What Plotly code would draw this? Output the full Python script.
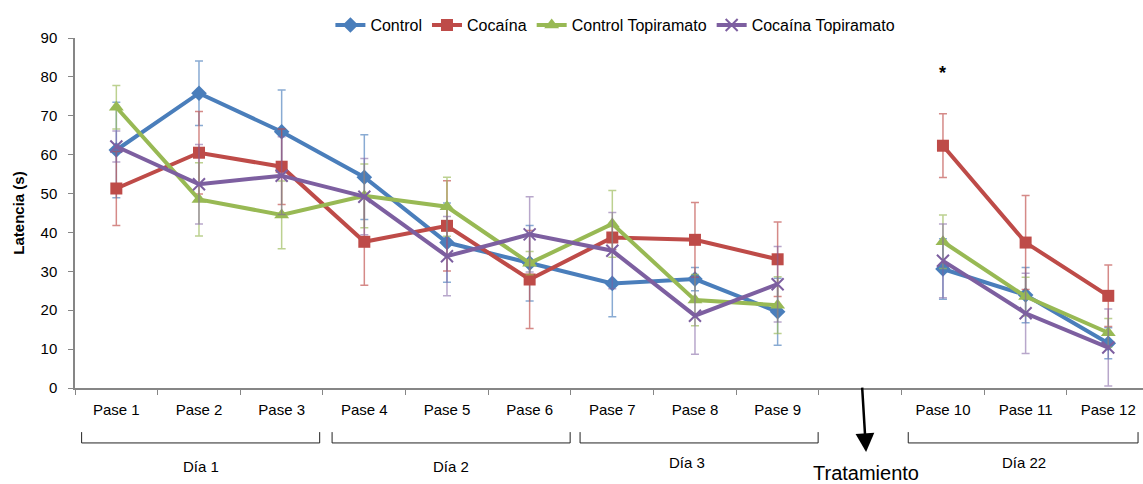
import plotly.graph_objects as go

categories = ["Pase 1", "Pase 2", "Pase 3", "Pase 4", "Pase 5", "Pase 6", "Pase 7",
              "Pase 8", "Pase 9", " ", "Pase 10", "Pase 11", "Pase 12"]

control = [61.2, 75.8, 65.9, 54.2, 37.4, 32.1, 26.9, 28.0, 19.6, None, 30.6, 23.9, 11.5]
control_err = [12.3, 8.3, 10.7, 10.9, 10.2, 9.7, 8.6, 3.0, 8.6, None, 7.8, 7.1, 4.0]

cocaina = [51.3, 60.5, 56.9, 37.6, 41.7, 27.9, 38.7, 38.1, 33.1, None, 62.3, 37.4, 23.7]
cocaina_err = [9.5, 10.6, 9.7, 11.2, 11.6, 12.6, 3.0, 9.6, 9.6, None, 8.2, 12.1, 7.9]

control_topi = [72.2, 48.5, 44.5, 49.4, 46.6, 32.1, 42.2, 22.6, 21.3, None, 37.6, 23.5, 14.2]
control_topi_err = [5.6, 9.4, 8.7, 8.2, 7.6, 3.0, 8.6, 6.6, 7.3, None, 6.9, 5.0, 3.7]

cocaina_topi = [62.1, 52.4, 54.6, 49.2, 33.9, 39.5, 35.3, 18.6, 26.7, None, 32.7, 19.2, 10.4]
cocaina_topi_err = [4.0, 10.2, 10.0, 9.8, 10.2, 9.7, 9.8, 9.9, 9.7, None, 9.5, 10.3, 9.9]

series_names = ["Control", "Cocaína", "Control Topiramato", "Cocaína Topiramato"]

days = ["Día 1", "Día 2", "Día 3", "Día 22"]
day_spans = [(-0.42, 2.46), (2.61, 5.49), (5.61, 8.49), (9.58, 12.36)]
day_label_pos = [(1.02, -0.223), (4.05, -0.223), (6.9, -0.214), (10.98, -0.214)]

FONT = "Liberation Sans, Arial, sans-serif"

styles = [
    dict(color="#4A7EBB", err="rgba(74,126,187,0.65)", symbol="diamond", size=12),
    dict(color="#BE4B48", err="rgba(190,75,72,0.65)", symbol="square", size=12),
    dict(color="#98B954", err="rgba(152,185,84,0.65)", symbol="triangle-up", size=13),
    dict(color="#7D5FA0", err="rgba(125,95,160,0.55)", symbol="x-thin", size=12),
]

data = [(control, control_err), (cocaina, cocaina_err),
        (control_topi, control_topi_err), (cocaina_topi, cocaina_topi_err)]

fig = go.Figure()
for name, (vals, errs), st in zip(series_names, data, styles):
    marker = dict(symbol=st["symbol"], size=st["size"], color=st["color"])
    if st["symbol"] == "x-thin":
        marker["line"] = dict(color=st["color"], width=2)
    fig.add_trace(go.Scatter(
        x=categories, y=vals, name=name, mode="lines+markers",
        line=dict(color=st["color"], width=4),
        marker=marker,
        connectgaps=False,
        error_y=dict(type="data", array=errs, visible=True,
                     color=st["err"], thickness=1.5, width=4),
    ))

shapes = []
for (x0, x1) in day_spans:
    shapes.append(dict(type="path", xref="x", yref="paper",
                       path=f"M {x0},-0.126 L {x0},-0.157 L {x1},-0.157 L {x1},-0.126",
                       line=dict(color="#222222", width=1)))

annotations = []
for d, (x, y) in zip(days, day_label_pos):
    annotations.append(dict(text=d, x=x, y=y, xref="x", yref="paper",
                            showarrow=False, font=dict(size=15, color="#000000", family=FONT),
                            yanchor="middle"))
annotations.append(dict(text="Tratamiento", x=9.07, y=-0.243, xref="x", yref="paper",
                        showarrow=False, font=dict(size=20, color="#000000", family=FONT),
                        yanchor="middle"))
annotations.append(dict(text="", x=9.07, y=-0.183, xref="x", yref="paper",
                        showarrow=True, ax=-4, ay=-66, arrowhead=2, arrowsize=1.5,
                        arrowwidth=2.5, arrowcolor="#000000"))
annotations.append(dict(text="<b>*</b>", x=10, y=81.0, xref="x", yref="y",
                        showarrow=False, font=dict(size=18, color="#000000", family=FONT)))

fig.update_layout(
    width=1143, height=484,
    margin=dict(l=75, r=0, t=38, b=96),
    paper_bgcolor="white", plot_bgcolor="white",
    font=dict(family=FONT, size=15, color="#000000"),
    showlegend=True,
    legend=dict(orientation="h", x=0.506, xanchor="center", y=1.037, yanchor="middle",
                font=dict(size=16, family=FONT), itemwidth=30, tracegroupgap=0,
                bgcolor="rgba(0,0,0,0)"),
    shapes=shapes,
    annotations=annotations,
)

fig.update_xaxes(
    type="category", categoryorder="array", categoryarray=categories,
    range=[-0.5, 12.42], tickson="boundaries", ticks="outside", ticklen=5,
    tickcolor="#868686", showline=True, linecolor="#868686", linewidth=1.5,
    showgrid=False, zeroline=False, ticklabelstandoff=7,
    tickfont=dict(size=15, family=FONT, color="#000000"),
)
fig.update_yaxes(
    range=[0, 90], tickvals=[0, 10, 20, 30, 40, 50, 60, 70, 80, 90],
    ticks="outside", ticklen=5, tickcolor="#868686", showline=True,
    linecolor="#868686", linewidth=1.5, showgrid=False, zeroline=False,
    tickfont=dict(size=15, family=FONT, color="#000000"), ticklabelstandoff=8,
    title=dict(text="<b>Latencia (s)</b>", font=dict(size=15, family=FONT), standoff=12),
)

fig.write_html("out.html")
